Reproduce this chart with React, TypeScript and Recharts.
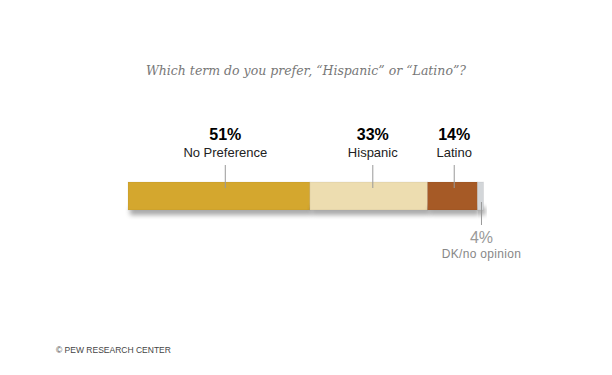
import React from "react";
import { BarChart, Bar, XAxis, YAxis } from "recharts";

const title = "Which term do you prefer, \u201cHispanic\u201d or \u201cLatino\u201d?";
const categories = ["No Preference", "Hispanic", "Latino", "DK/no opinion"];
const keys = ["noPref", "hispanic", "latino", "dk"];
const pctLabels = ["51%", "33%", "14%", "4%"];
// segment values as drawn in the picture (the DK sliver is drawn thinner than its 4% label)
const barValues = [51, 33, 14, 1.7];
const colors = ["#D4A72E", "#EDDDB0", "#A65A26", "#D3D6D9"];
const source = "\u00a9 PEW RESEARCH CENTER";

const row: Record<string, any> = { name: "all" };
keys.forEach((k, i) => (row[k] = barValues[i]));
const data = [row];
const total = barValues.reduce((a, b) => a + b, 0);

const SegShape = (props: any) => {
  const { x, y, width, height, fill } = props;
  return (
    <g>
      <rect x={x + 2} y={y + height - 3} width={width} height={8} fill="#000" opacity={0.35} filter="url(#barShadow2)" />
      <rect x={x} y={y} width={width} height={height} fill={fill} stroke="rgba(0,0,0,0.06)" strokeWidth={1} />
    </g>
  );
};

const makeTopLabel = (i: number) => (props: any) => {
  const { x, y, width } = props;
  const cx = x + width / 2 + width * 0.035;
  return (
    <g>
      <text x={cx} y={y - 42} textAnchor="middle" fontFamily="Liberation Sans, Arial, sans-serif" fontWeight="bold" fontSize={16} fill="#000">
        {pctLabels[i]}
      </text>
      <text x={cx} y={y - 25.5} textAnchor="middle" fontFamily="Liberation Sans, Arial, sans-serif" fontSize={13} fill="#222">
        {categories[i]}
      </text>
      <line x1={cx} x2={cx} y1={y - 17} y2={y + 6} stroke="#999" strokeWidth={1} />
    </g>
  );
};

const dkLabel = (props: any) => {
  const { x, y, width } = props;
  const cx = x + width / 2 + 1;
  return (
    <g>
      <line x1={cx} x2={cx} y1={y + 20} y2={y + 43} stroke="#999" strokeWidth={1} />
      <text x={cx} y={y + 61} textAnchor="middle" fontFamily="Liberation Sans, Arial, sans-serif" fontSize={16} fill="#999">
        {pctLabels[3]}
      </text>
      <text x={cx} y={y + 76} textAnchor="middle" fontFamily="Liberation Sans, Arial, sans-serif" fontSize={12} letterSpacing={0.3} fill="#888">
        {categories[3]}
      </text>
    </g>
  );
};

export default function App() {
  return (
    <div style={{ position: "absolute", left: 0, top: 0, width: 612, height: 375, background: "#fff" }}>
      <div
        style={{
          position: "absolute",
          left: 0,
          top: 63,
          width: 612,
          textAlign: "center",
          fontFamily: "DejaVu Serif, Georgia, serif",
          fontStyle: "italic",
          fontSize: 12.5,
          color: "#777",
        }}
      >
        {title}
      </div>
      <BarChart
        width={612}
        height={375}
        data={data}
        layout="vertical"
        margin={{ top: 150, right: 128.5, bottom: 133, left: 128 }}
      >
        <defs>
          <filter id="barShadow2" x="-20%" y="-200%" width="140%" height="500%">
            <feGaussianBlur stdDeviation="2.5" />
          </filter>
        </defs>
        <XAxis type="number" domain={[0, total]} hide />
        <YAxis type="category" dataKey="name" hide />
        {keys.map((k, i) => (
          <Bar
            key={k}
            dataKey={k}
            stackId="a"
            barSize={28}
            fill={colors[i]}
            isAnimationActive={false}
            shape={SegShape}
            label={i < 3 ? makeTopLabel(i) : dkLabel}
          />
        ))}
      </BarChart>
      <div
        style={{
          position: "absolute",
          left: 56,
          top: 345,
          fontFamily: "Liberation Sans, Arial, sans-serif",
          fontSize: 8.5,
          color: "#444",
        }}
      >
        {source}
      </div>
    </div>
  );
}
